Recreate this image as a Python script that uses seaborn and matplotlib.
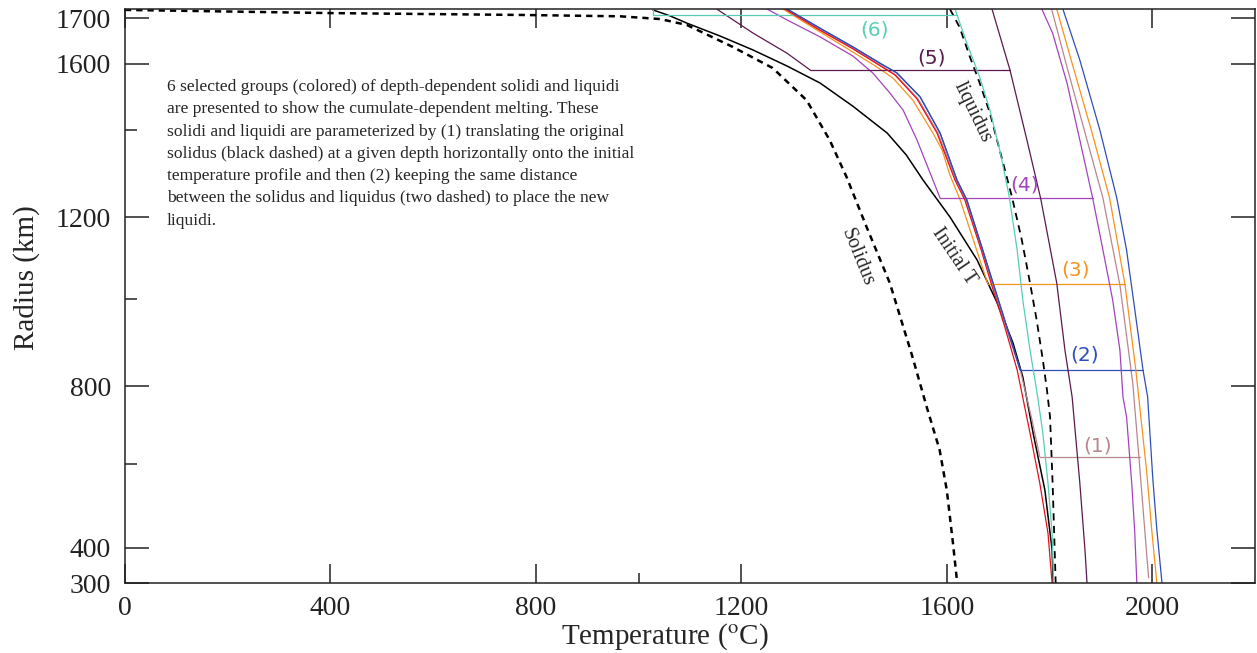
import numpy as np
import pandas as pd
import seaborn as sns
import matplotlib.pyplot as plt

# temperature (C) / radius (km)
sol_T = [0, 405, 769, 964, 1042, 1094, 1183, 1261, 1327, 1372, 1405, 1444, 1489, 1532, 1561, 1586, 1600, 1612, 1620]
sol_r = [1718, 1711, 1707, 1704, 1698, 1685, 1637, 1587, 1490, 1377, 1292, 1176, 1040, 872, 746, 637, 538, 411, 305]

liq_T = [1606, 1625, 1645, 1664, 1684, 1703, 1727, 1746, 1762, 1775, 1787, 1795, 1801, 1806, 1810, 1812]
liq_r = [1720, 1680, 1615, 1542, 1451, 1354, 1246, 1145, 1040, 952, 860, 790, 721, 555, 394, 300]

init_T = [1028, 1061, 1094, 1158, 1223, 1289, 1353, 1417, 1484, 1521, 1554, 1606, 1659, 1698,
          1729, 1748, 1768, 1791, 1805, 1807]
init_r = [1718, 1705, 1689, 1661, 1630, 1593, 1542, 1472, 1393, 1343, 1285, 1201, 1096, 992,
          899, 821, 680, 538, 394, 300]

red_T = [1285, 1349, 1415, 1468, 1499, 1542, 1581, 1616, 1635, 1667, 1686, 1713, 1737, 1762, 1781, 1797, 1805]
red_r = [1720, 1676, 1634, 1596, 1566, 1494, 1393, 1285, 1240, 1120, 1040, 936, 837, 680, 555, 435, 300]

# group (1) mauve
g1_sol_T = [1287, 1351, 1417, 1470, 1501, 1544, 1583, 1618, 1637, 1669, 1688, 1715, 1743, 1766, 1781]
g1_sol_r = [1720, 1676, 1634, 1596, 1566, 1494, 1393, 1285, 1240, 1120, 1040, 936, 837, 713, 619]
g1_liq_T = [1804, 1834, 1873, 1904, 1937, 1962, 1974, 1991, 1993]
g1_liq_r = [1720, 1590, 1377, 1244, 1035, 807, 619, 349, 315]
g1_r, g1_T0, g1_T1 = 619, 1781, 1976

# group (2) blue
g2_sol_T = [1289, 1353, 1417, 1470, 1503, 1548, 1587, 1620, 1639, 1670, 1690, 1717, 1743]
g2_sol_r = [1720, 1678, 1637, 1601, 1572, 1500, 1393, 1285, 1240, 1120, 1040, 936, 837]
g2_liq_T = [1826, 1859, 1898, 1931, 1950, 1968, 1982, 1991, 2001, 2009, 2019]
g2_liq_r = [1720, 1608, 1400, 1244, 1120, 959, 837, 772, 567, 442, 300]
g2_r, g2_T0, g2_T1 = 837, 1743, 1982

# group (3) orange
g3_sol_T = [1281, 1347, 1411, 1464, 1495, 1534, 1573, 1591, 1606, 1626, 1655, 1680]
g3_sol_r = [1720, 1674, 1630, 1590, 1557, 1490, 1393, 1354, 1297, 1240, 1132, 1037]
g3_liq_T = [1814, 1846, 1883, 1917, 1947, 1968, 1989, 1999, 2009]
g3_liq_r = [1720, 1590, 1393, 1244, 1035, 837, 584, 442, 300]
g3_r, g3_T0, g3_T1 = 1037, 1680, 1947

# group (4) purple
g4_sol_T = [1250, 1289, 1353, 1417, 1456, 1489, 1515, 1542, 1587]
g4_sol_r = [1720, 1696, 1659, 1617, 1572, 1512, 1460, 1377, 1244]
g4_liq_T = [1785, 1806, 1834, 1859, 1884, 1904, 1923, 1937, 1943, 1950, 1960, 1966, 1970]
g4_liq_r = [1720, 1667, 1542, 1377, 1244, 1120, 998, 883, 772, 721, 555, 435, 300]
g4_r, g4_T0, g4_T1 = 1244, 1587, 1884

# group (5) dark purple
g5_sol_T = [1152, 1223, 1289, 1334]
g5_sol_r = [1720, 1667, 1623, 1581]
g5_liq_T = [1688, 1723, 1756, 1783, 1814, 1830, 1844, 1859, 1869, 1873]
g5_liq_r = [1720, 1581, 1377, 1242, 1040, 883, 772, 555, 394, 300]
g5_r, g5_T0, g5_T1 = 1581, 1334, 1723

# group (6) teal
g6_sol_T = [1028, 1028]
g6_sol_r = [1720, 1707]
g6_liq_T = [1616, 1620, 1639, 1664, 1684, 1703, 1721, 1737, 1748, 1762, 1777, 1787, 1797, 1805, 1808]
g6_liq_r = [1720, 1707, 1645, 1560, 1460, 1354, 1251, 1120, 998, 883, 772, 680, 555, 435, 300]
g6_r, g6_T0, g6_T1 = 1707, 1028, 1620

group_labels = ['(1)', '(2)', '(3)', '(4)', '(5)', '(6)']
label_T = [1894, 1869, 1850, 1752, 1571, 1460]
label_r = [647, 871, 1071, 1274, 1612, 1674]
colors = ['#b9868e', '#2f4fb8', '#f7921e', '#a244bd', '#5a1a4c', '#55cfb6']

note = ("6 selected groups (colored) of depth-dependent solidi and liquidi\n"
        "are presented to show the cumulate-dependent melting. These\n"
        "solidi and liquidi are parameterized by (1) translating the original\n"
        "solidus (black dashed) at a given depth horizontally onto the initial\n"
        "temperature profile and then (2) keeping the same distance\n"
        "between the solidus and liquidus (two dashed) to place the new\n"
        "liquidi.")

sns.set_theme(style='ticks')
plt.rcParams['font.family'] = ['Liberation Serif', 'DejaVu Serif']
plt.rcParams['mathtext.fontset'] = 'stix'

fig = plt.figure(figsize=(12.57, 6.53), dpi=100)
ax = fig.add_axes([0.0994, 0.1067, 0.8990, 0.8795])

# radius axis in the source is not evenly spaced
scale_r = [300, 400, 600, 800, 1000, 1200, 1400, 1600, 1720]
scale_p = [0, 35.6, 119, 197.3, 284, 366, 453.3, 519.6, 574.3]
ax.set_yscale('function', functions=(lambda r: np.interp(r, scale_r, scale_p),
                                      lambda p: np.interp(p, scale_p, scale_r)))


def line(T, r, color, lw=0.9, ls='-'):
    sns.lineplot(x=T, y=r, sort=False, estimator=None, color=color,
                 linewidth=lw, linestyle=ls, ax=ax)


line(sol_T, sol_r, 'black', 1.8, (0, (2.5, 2.0)))
line(liq_T, liq_r, 'black', 1.3, (0, (4, 3)))
line(init_T, init_r, 'black', 1.1)

groups = [
    (g1_sol_T, g1_sol_r, g1_liq_T, g1_liq_r, g1_r, g1_T0, g1_T1),
    (g2_sol_T, g2_sol_r, g2_liq_T, g2_liq_r, g2_r, g2_T0, g2_T1),
    (g3_sol_T, g3_sol_r, g3_liq_T, g3_liq_r, g3_r, g3_T0, g3_T1),
    (g4_sol_T, g4_sol_r, g4_liq_T, g4_liq_r, g4_r, g4_T0, g4_T1),
    (g5_sol_T, g5_sol_r, g5_liq_T, g5_liq_r, g5_r, g5_T0, g5_T1),
    (g6_sol_T, g6_sol_r, g6_liq_T, g6_liq_r, g6_r, g6_T0, g6_T1),
]
for (sT, sr, lT, lr, rr, T0, T1), c in zip(groups, colors):
    line(sT, sr, c)
    line(lT, lr, c)
    line([T0, T1], [rr, rr], c)

line(red_T, red_r, '#e8101e', 0.9)
line(g2_sol_T, g2_sol_r, colors[1], 0.9)

for lab, T, r, c in zip(group_labels, label_T, label_r, colors):
    ax.text(T, r, lab, color=c, fontsize=14.5, ha='center', va='center',
            family=['DejaVu Sans'])

ax.text(1425, 1101, 'Solidus', rotation=-68, fontsize=14.5, ha='center', va='center')
ax.text(1614, 1106, 'Initial T', rotation=-56, fontsize=14.5, ha='center', va='center')
ax.text(1649, 1454, 'liquidus', rotation=-64, fontsize=14.5, ha='center', va='center')

ax.text(0.0372, 0.878, note, transform=ax.transAxes, fontsize=12.6,
        ha='left', va='top', linespacing=1.52)

ax.set_xlim(0, 2200)
ax.set_ylim(300, 1720)
ax.set_xticks([0, 400, 800, 1200, 1600, 2000])
ax.set_xticks([1000], minor=True)
ax.set_yticks([300, 400, 800, 1200, 1600, 1700])
ax.set_yticks([600, 1000, 1400], minor=True)
ax.set_yticklabels(['300', '400', '800', '1200', '1600', '1700'])
for t in (ax.yaxis.get_major_ticks()[0], ax.yaxis.get_major_ticks()[-1]):
    t.tick1line.set_visible(False)
    t.tick2line.set_visible(False)

ax.tick_params(axis='both', which='both', direction='in', labelsize=20,
               colors='#222222', width=1.1)
ax.tick_params(axis='y', which='major', length=17, left=True, right=True, pad=10)
ax.tick_params(axis='y', which='minor', length=8.5, left=True, right=False)
ax.tick_params(axis='x', which='major', length=13.5, top=True, bottom=True, pad=9)
ax.tick_params(axis='x', which='minor', length=7.5, top=False, bottom=True)
for s in ax.spines.values():
    s.set_visible(True)
    s.set_linewidth(1.1)
    s.set_color('#222222')

ax.set_xlabel(r'Temperature ($^{\rm o}$C)', fontsize=21)
ax.set_ylabel('Radius (km)', fontsize=21)
ax.xaxis.set_label_coords(0.478, -0.066)
ax.yaxis.set_label_coords(-0.075, 0.532)

plt.savefig('out.png', dpi=100)
